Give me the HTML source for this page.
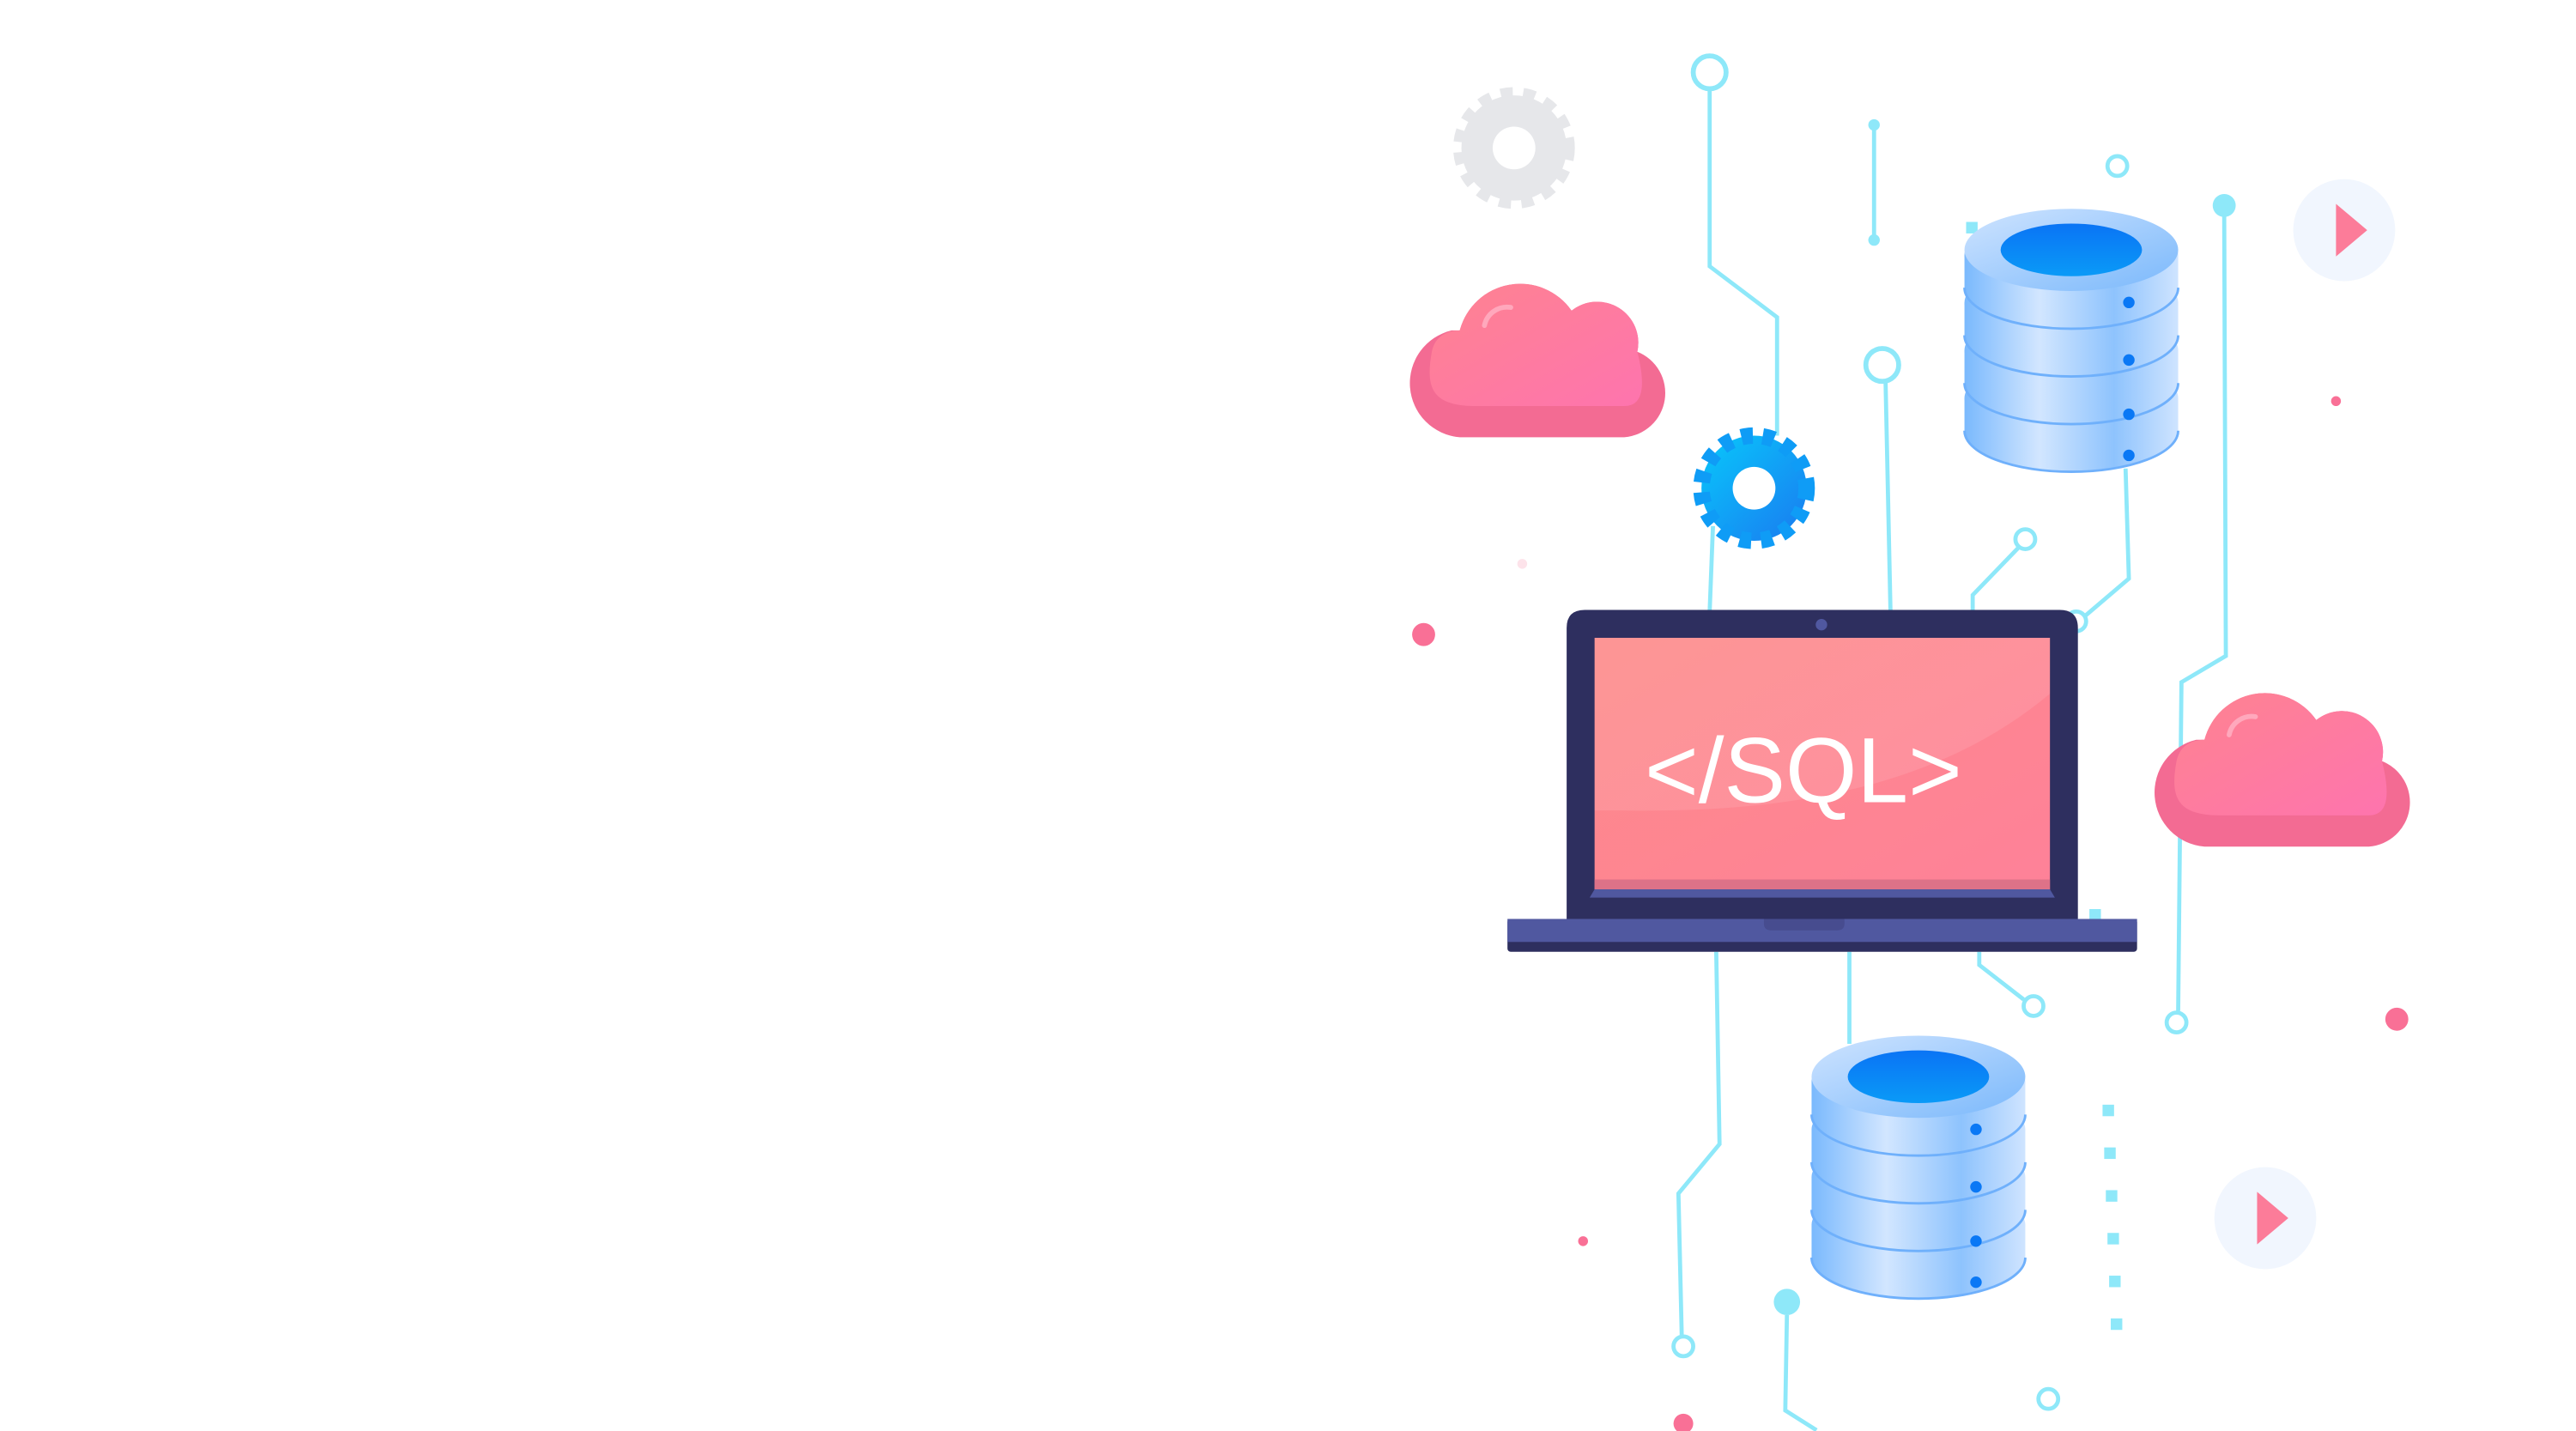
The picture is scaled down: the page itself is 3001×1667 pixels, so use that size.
<!DOCTYPE html>
<html><head><meta charset="utf-8"><style>html,body{margin:0;padding:0;background:#fff}svg{display:block}</style></head>
<body>
<svg width="3001" height="1667" viewBox="0 0 1567 870.5" preserveAspectRatio="none" xmlns="http://www.w3.org/2000/svg">
<defs>
<linearGradient id="scr" x1="0" y1="0" x2="1" y2="1"><stop offset="0" stop-color="#fd8a89"/><stop offset="1" stop-color="#fe8199"/></linearGradient>
<linearGradient id="cl" x1="0" y1="0" x2="1" y2="1"><stop offset="0" stop-color="#fe8390"/><stop offset="1" stop-color="#fe74ae"/></linearGradient>
<linearGradient id="cyl" x1="0" y1="0" x2="1" y2="0"><stop offset="0" stop-color="#7ab9fd"/><stop offset="0.35" stop-color="#d2e6ff"/><stop offset="0.7" stop-color="#8ec3fd"/><stop offset="1" stop-color="#cfe4ff"/></linearGradient>
<linearGradient id="top" x1="0" y1="0" x2="1" y2="1"><stop offset="0" stop-color="#cfe4ff"/><stop offset="1" stop-color="#7ab8fb"/></linearGradient>
<linearGradient id="hole" x1="0" y1="0" x2="0" y2="1"><stop offset="0" stop-color="#0a74f5"/><stop offset="1" stop-color="#0a9af7"/></linearGradient>
<linearGradient id="bg" x1="0" y1="0" x2="1" y2="1"><stop offset="0" stop-color="#08c8fb"/><stop offset="1" stop-color="#1a7af0"/></linearGradient>
<g id="layer">
 <path d="M-65 0 L-65 20 A65 25 0 0 0 65 20 L65 0 Z" fill="url(#cyl)"/>
 <ellipse cx="0" cy="0" rx="65" ry="23" fill="url(#cyl)"/>
 <path d="M-65 20 A65 25 0 0 0 65 20" stroke="#6fb0fb" stroke-width="1.5" fill="none"/>
</g>
<g id="db">
 <use href="#layer" transform="translate(0,90)"/>
 <use href="#layer" transform="translate(0,61)"/>
 <use href="#layer" transform="translate(0,32)"/>
 <use href="#layer" transform="translate(0,3)"/>
 <ellipse cx="0" cy="0" rx="65" ry="25" fill="url(#top)"/>
 <ellipse cx="0" cy="0" rx="43" ry="16" fill="url(#hole)"/>
 <g fill="#0a78f5"><circle cx="35" cy="32" r="3.5"/><circle cx="35" cy="67" r="3.5"/><circle cx="35" cy="100" r="3.5"/><circle cx="35" cy="125" r="3.5"/></g>
</g>
<g id="cloud">
 <path d="M35 92 A33 33 0 0 1 30 27 L35 27 A38 38 0 0 1 103 15 A25 25 0 0 1 143 40 A27 27 0 0 1 135 92 Z" fill="#f36b93"/>
 <path d="M45 73 C18 73 14 62 18 40 C20 30 28 27 35 27 A38 38 0 0 1 103 15 A25 25 0 0 1 143 40 C148 60 147 73 135 73 Z" fill="url(#cl)"/>
 <path d="M50 24 A14 14 0 0 1 66 13" stroke="#ffa8bc" stroke-width="3" fill="none" stroke-linecap="round"/>
</g>
</defs>
<g stroke="#8ee8f9" stroke-width="2.5" fill="none">
 <polyline points="1040,54 1040,162 1081,193 1081,265"/>
 <line x1="1140" y1="76" x2="1140" y2="146"/>
 <polyline points="1147,232 1150,372"/>
 <polyline points="1353,130 1354,399 1327,415 1325,615"/>
 <polyline points="1228,333 1200,362 1200,372"/>
 <polyline points="1293,285 1295,352 1268,375"/>
 <line x1="1042" y1="320" x2="1040" y2="372"/>
 <polyline points="1044,579 1046,696 1021,726 1023,812"/>
 <line x1="1125" y1="579" x2="1125" y2="635"/>
 <polyline points="1204,579 1204,587 1231,608"/>
 <polyline points="1087,800 1086,858 1105,870"/>
 <circle cx="1040" cy="44" r="10" stroke-width="3"/>
 <circle cx="1145" cy="222" r="10" stroke-width="3"/>
 <circle cx="1288" cy="101" r="6"/>
 <circle cx="1232" cy="328" r="6"/>
 <circle cx="1263" cy="378" r="6"/>
 <circle cx="1324" cy="622" r="6"/>
 <circle cx="1237" cy="612" r="6"/>
 <circle cx="1024" cy="819" r="6"/>
 <circle cx="1246" cy="851" r="6"/>
</g>
<g fill="#8ee8f9"><circle cx="1140" cy="76" r="3.5"/><circle cx="1140" cy="146" r="3.5"/><circle cx="1353" cy="125" r="7"/><circle cx="1087" cy="792" r="8"/>
<rect x="1279" y="672" width="7" height="7"/><rect x="1280" y="698" width="7" height="7"/><rect x="1281" y="724" width="7" height="7"/><rect x="1282" y="750" width="7" height="7"/><rect x="1283" y="776" width="7" height="7"/><rect x="1284" y="802" width="7" height="7"/>
<rect x="1196" y="135" width="7" height="7"/><rect x="1271" y="553" width="7" height="7"/></g>
<g fill="#f97096"><circle cx="866" cy="386" r="7"/><circle cx="1421" cy="244" r="3"/><circle cx="1458" cy="620" r="7"/><circle cx="963" cy="755" r="3"/><circle cx="1024" cy="866" r="6"/></g>
<circle cx="926" cy="343" r="3" fill="#fde3ea"/>
<circle cx="1426" cy="140" r="31" fill="#f1f6fe"/><path d="M1421 124 L1440 140 L1421 156 Z" fill="#fc7c99"/>
<circle cx="1378" cy="741" r="31" fill="#f1f6fe"/><path d="M1373 725 L1392 741 L1373 757 Z" fill="#fc7c99"/>
<g transform="translate(921,90)"><circle r="32" fill="#e6e7ea" stroke="#e6e7ea" stroke-width="10" stroke-dasharray="7 6"/><circle r="13" fill="#fff"/></g>
<g transform="translate(1067,297)"><circle r="32" fill="url(#bg)" stroke="#0f9cf6" stroke-width="10" stroke-dasharray="7 6"/><circle r="13" fill="#fff"/></g>
<use href="#cloud" transform="translate(853,174)"/>
<use href="#cloud" transform="translate(1306,423)"/>
<use href="#db" transform="translate(1260,152)"/>
<use href="#db" transform="translate(1167,655)"/>
<path d="M953 382 Q953 371 964 371 L1253 371 Q1264 371 1264 382 L1264 560 L953 560 Z" fill="#2e2f5f"/>
<circle cx="1108" cy="380" r="3.5" fill="#5058a0"/>
<rect x="970" y="388" width="277" height="157" fill="url(#scr)"/>
<path d="M1247 422 C1180 478 1090 495 985 493 L970 493 L970 388 L1247 388 Z" fill="#fff" opacity="0.1"/>
<rect x="970" y="535" width="277" height="6" fill="#dd7288"/>
<path d="M970 541 L1247 541 L1250 546 L967 546 Z" fill="#5058a0"/>
<text x="1097" y="488" text-anchor="middle" font-family="Liberation Sans, sans-serif" font-size="56" fill="#fff">&lt;/SQL&gt;</text>
<rect x="917" y="559" width="383" height="20" rx="2" fill="#2e2f5f"/>
<rect x="917" y="559" width="383" height="14" fill="#5058a0"/>
<path d="M1073 559 L1122 559 L1122 562 Q1122 566 1117 566 L1078 566 Q1073 566 1073 562 Z" fill="#474c8f"/>
</svg>
</body></html>
